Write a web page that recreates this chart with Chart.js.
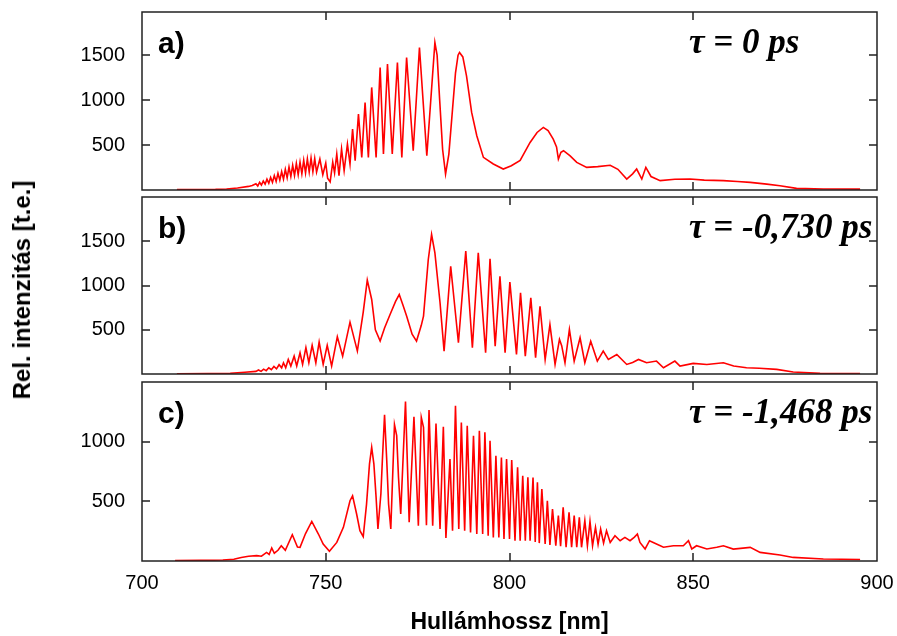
<!DOCTYPE html>
<html>
<head>
<meta charset="utf-8">
<script src="https://cdn.jsdelivr.net/npm/chart.js@4.4.0/dist/chart.umd.min.js"></script>
<style>
  body { margin: 0; background: #fff; width: 897px; height: 636px; position: relative; overflow: hidden;
         font-family: "Liberation Sans", Arial, sans-serif; }
  canvas { position: absolute; left: 0; }
  #ytitle { position: absolute; left: 22px; top: 290px; transform: translate(-50%, -50%) rotate(-90deg);
            font-weight: bold; font-size: 24px; white-space: nowrap; color: #000; }
</style>
</head>
<body>
<canvas id="pa" width="897" height="202" style="top:0px"></canvas>
<canvas id="pb" width="897" height="201" style="top:185px"></canvas>
<canvas id="pc" width="897" height="266" style="top:370px"></canvas>
<div id="ytitle">Rel. intenzitás [t.e.]</div>
<script>
// spectra: wavelength [nm] / relative intensity

const nmA = [
  709.5, 715, 720, 723, 726, 729, 730, 731, 731.5, 732,
  732.5, 733, 733.5, 734, 734.5, 735, 735.5, 736, 736.5, 737,
  737.5, 738, 738.5, 739, 739.5, 740, 740.5, 741, 741.5, 742,
  742.5, 743, 743.5, 744, 744.5, 745, 745.5, 746, 746.5, 747,
  747.5, 748.4, 749.2, 750, 750.5, 751.2, 751.9, 752.4, 753, 753.6,
  754.3, 755, 755.9, 756.6, 757.3, 758, 758.9, 759.8, 760.7, 761.6,
  762.5, 763.7, 764.8, 765.7, 766.8, 768.1, 769.5, 770.7, 772, 773.8,
  775.5, 777.5, 779.7, 780.3, 781, 781.8, 782.6, 783.5, 784.5, 785.3, 786, 786.4, 787.3, 788.3, 789.7, 791.1,
  792.9, 795.6, 798.3, 800.5, 802.9, 805.6, 807.5, 809.2, 810.5, 811.9,
  812.8, 813.3, 814, 814.7, 816.5, 818.3, 821, 824, 827.4, 829.5,
  831.9, 833.5, 834.6, 836, 837.1, 838.5, 841, 845, 849.1, 853,
  858.2, 862, 865.5, 870, 873.6, 878.1, 885.4, 895.4
];
const intA = [
  4, 5, 7, 11, 22, 40, 50, 70, 45, 85,
  55, 100, 65, 120, 75, 140, 85, 160, 95, 185,
  110, 205, 120, 230, 135, 255, 150, 275, 160, 295,
  170, 310, 180, 330, 190, 345, 200, 355, 205, 350,
  200, 345, 170, 300, 130, 90, 310, 190, 400, 160,
  456, 215, 511, 289, 678, 326, 844, 363, 974, 363,
  1141, 363, 1363, 400, 1400, 400, 1419, 363, 1474, 437,
  1585, 381, 1641, 1500, 1000, 450, 178, 400, 900, 1300, 1500, 1530, 1480, 1270, 863, 604,
  363, 289, 233, 270, 330, 529, 640, 696, 660, 566,
  480, 344, 420, 437, 380, 307, 252, 260, 275, 230,
  122, 180, 233, 122, 252, 150, 104, 120, 122, 110,
  104, 95, 85, 65, 48, 18, 11, 10
];

const nmB = [
  709.5, 718, 724, 728, 731, 731.7, 732.4, 733.1, 733.8, 734.5,
  735.2, 735.9, 736.6, 737.3, 738, 738.5, 739.1, 739.8, 740.5, 741.4,
  742.1, 743, 743.7, 744.6, 745.4, 746.3, 747.3, 748.2, 749.3, 750.4,
  751.6, 753.15, 754.6, 756.6, 758.6, 760.2, 761.3, 762.5, 763.5, 764.8,
  766, 767.5, 769, 770, 771, 772, 773.5, 774.7, 776, 776.6,
  777.9, 778.8, 779.7, 781.1, 782.2, 784, 786.1, 788.1, 789.9, 791.5,
  793.5, 794.7, 796.1, 797.4, 798.8, 800.1, 801.9, 803, 804.3, 805.8,
  807.1, 808.3, 809.7, 811, 812.4, 813.6, 814.2, 815.1, 816.3, 817.6,
  819.2, 820.5, 822.1, 823.9, 825.5, 826.9, 829.2, 831.9, 833.5, 835.1,
  837.3, 840, 841.9, 845, 846.4, 850, 853.7, 858.2, 861, 864.5,
  868, 872.7, 877.2, 884.5, 895.4
];
const intB = [
  3, 5, 8, 20, 30, 45, 30, 55, 38, 70,
  48, 85, 58, 105, 70, 127, 71, 165, 90, 202,
  90, 240, 108, 297, 127, 323, 127, 361, 108, 323,
  90, 421, 202, 586, 259, 700, 1060, 842, 500, 372,
  520, 673, 820, 898, 780, 654, 450, 372, 550, 654,
  1294, 1576, 1369, 805, 259, 1218, 353, 1388, 297, 1369,
  240, 1301, 315, 1105, 240, 1038, 221, 917, 202, 860,
  183, 766, 164, 559, 108, 390, 320, 127, 503, 146,
  409, 127, 371, 146, 258, 164, 221, 108, 130, 164,
  127, 146, 70, 146, 89, 120, 108, 127, 90, 71,
  65, 52, 22, 7, 5
];

const nmC = [
  709, 716, 722, 725, 727, 729, 731.2, 732.5, 733.9, 734.6,
  735.3, 736, 737, 737.9, 739, 740.9, 742.3, 743, 744.5, 746.2,
  748, 749.3, 751, 753, 754.8, 756.6, 757.3, 758.4, 759.3, 760.2,
  761.1, 761.9, 762.5, 763.1, 763.7, 764.2, 765, 765.4, 766, 766.6,
  767.1, 767.7, 768.7, 769.3, 769.8, 770.4, 771.7, 772.7, 774, 775.2,
  776, 776.6, 777.4, 778.1, 779.1, 780, 781.1, 782, 782.7, 783.8,
  784.5, 785.3, 786.2, 786.9, 787.8, 788.5, 789.4, 790.2, 791.1, 791.8,
  792.7, 793.3, 794.2, 794.7, 795.6, 796.3, 797.1, 797.8, 798.5, 799.2,
  800, 800.6, 801.5, 802.2, 802.9, 803.6, 804.3, 805, 805.6, 806.4,
  807, 807.6, 808.1, 808.8, 809.7, 810.3, 811, 811.7, 812.6, 813.3,
  813.9, 814.6, 815.4, 816.2, 816.9, 817.6, 818.3, 819, 819.6, 820.5,
  821.2, 821.9, 822.6, 823.4, 824.1, 824.8, 825.6, 826.4, 827.4, 828.7,
  830.1, 831.4, 832.8, 834, 834.8, 835.5, 836.9, 838.1, 840, 841.9,
  844.6, 847.3, 848.7, 849.6, 850.9, 853.7, 856.4, 858.2, 860.9, 865.5,
  868.2, 873.6, 877.2, 885.4, 895.4
];
const intC = [
  4, 5, 8, 15, 30, 40, 45, 40, 72, 55,
  109, 65, 90, 128, 90, 220, 117, 115, 230, 332,
  226, 142, 81, 156, 282, 505, 547, 394, 254, 204,
  477, 812, 952, 812, 533, 268, 561, 840, 1226, 840,
  477, 268, 1142, 1050, 700, 394, 1337, 324, 1209, 296,
  1203, 1120, 300, 1265, 296, 1153, 268, 1125, 193, 854,
  254, 1301, 268, 1161, 254, 1134, 240, 1050, 226, 1092,
  226, 1078, 212, 1008, 198, 882, 198, 868, 184, 854,
  184, 846, 170, 785, 170, 715, 170, 701, 170, 700,
  160, 659, 150, 603, 142, 505, 135, 435, 128, 380,
  125, 449, 115, 408, 115, 380, 115, 366, 115, 338,
  128, 332, 128, 282, 140, 268, 150, 254, 156, 212,
  170, 198, 170, 200, 226, 156, 101, 170, 142, 115,
  128, 128, 170, 101, 128, 101, 115, 128, 100, 114,
  72, 50, 30, 17, 12
];

const xTickMarks = [750, 800, 850];
const yTicksA = [0, 500, 1000, 1500, 1980];
const yTicksB = [0, 500, 1000, 1500, 2000];
const yTicksC = [0, 500, 1000, 1500];
const panelTags = ['a)', 'b)', 'c)'];
const tauLabels = ['\u03c4 = 0 ps', '\u03c4 = -0,730 ps', '\u03c4 = -1,468 ps'];

Chart.defaults.font.family = '"Liberation Sans", Arial, sans-serif';

// box round the plot, inward tick marks on all four sides, panel texts
const framePlugin = {
  id: 'frame',
  afterDraw(chart, args, opts) {
    const { ctx, chartArea: a, scales: { x, y } } = chart;
    ctx.save();
    ctx.strokeStyle = '#222';
    ctx.lineWidth = 1.5;
    ctx.beginPath();
    xTickMarks.forEach(v => {
      const px = Math.round(x.getPixelForValue(v));
      ctx.moveTo(px, a.top); ctx.lineTo(px, a.top + 8);
      ctx.moveTo(px, a.bottom); ctx.lineTo(px, a.bottom - 8);
    });
    opts.marks.forEach(v => {
      const py = Math.round(y.getPixelForValue(v));
      ctx.moveTo(a.left, py); ctx.lineTo(a.left + 8, py);
      ctx.moveTo(a.right, py); ctx.lineTo(a.right - 8, py);
    });
    ctx.stroke();
    ctx.strokeRect(a.left, a.top, a.width, a.height);

    ctx.fillStyle = '#000';
    ctx.textBaseline = 'alphabetic';
    ctx.textAlign = 'left';
    ctx.font = 'bold 30px "Liberation Sans", Arial, sans-serif';
    ctx.fillText(opts.tag, a.left + 16, a.top + 41);
    ctx.font = 'italic bold 35px "Liberation Serif", "Times New Roman", serif';
    ctx.fillText(opts.tau, a.left + 547, a.top + 41);
    ctx.restore();
  }
};

function makePanel(id, nm, vals, yTicks, idx, showX, padTop, padBottom) {
  const yMax = yTicks[yTicks.length - 1];
  const marks = yTicks.filter(v => v > 0 && v < yMax);
  new Chart(document.getElementById(id), {
    type: 'line',
    data: {
      datasets: [{
        data: nm.map((v, i) => ({ x: v, y: vals[i] })),
        borderColor: '#ff0000',
        borderWidth: 1.6,
        pointRadius: 0,
        tension: 0,
        fill: false
      }]
    },
    options: {
      responsive: false,
      animation: false,
      layout: { padding: { top: padTop, bottom: padBottom, left: 0, right: 20 } },
      plugins: {
        legend: { display: false },
        tooltip: { enabled: false },
        frame: { tag: panelTags[idx], tau: tauLabels[idx], marks }
      },
      scales: {
        x: {
          type: 'linear', min: 700, max: 900, display: showX,
          grid: { display: false, drawTicks: true, tickLength: 10 },
          border: { display: false },
          ticks: { stepSize: 50, padding: 0, color: '#000', font: { size: 20 } },
          title: {
            display: showX, text: 'Hullámhossz [nm]', color: '#000',
            font: { size: 23, weight: 'bold' }, padding: { top: 0, bottom: 0 }
          },
          afterFit(s) { if (showX) s.height = 75; }
        },
        y: {
          min: 0, max: yMax,
          grid: { display: false, drawTicks: true, tickLength: 17 },
          border: { display: false },
          ticks: {
            padding: 0, color: '#000', font: { size: 20 },
            callback: v => (v > 0 && v < yMax) ? String(v) : null
          },
          afterFit(s) { s.width = 142; },
          afterBuildTicks(s) { s.ticks = yTicks.map(v => ({ value: v })); }
        }
      }
    },
    plugins: [framePlugin]
  });
}

makePanel('pa', nmA, intA, yTicksA, 0, false, 12, 12);
makePanel('pb', nmB, intB, yTicksB, 1, false, 12, 12);
makePanel('pc', nmC, intC, yTicksC, 2, true, 12, 0);
</script>
</body>
</html>
